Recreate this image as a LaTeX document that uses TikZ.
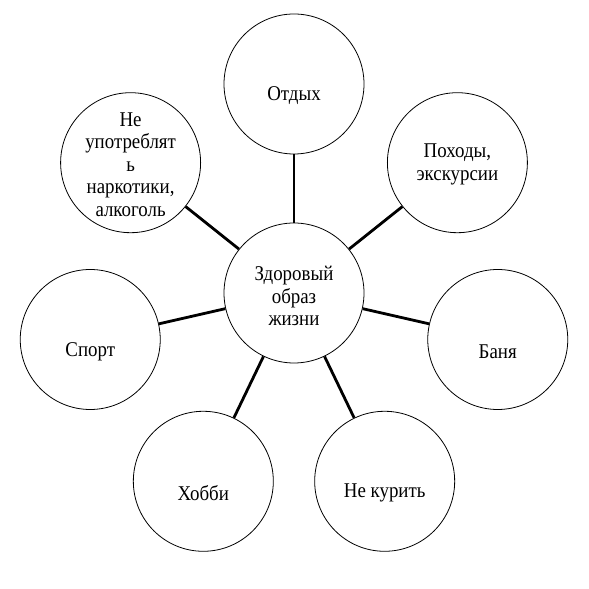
\documentclass[tikz,border=0pt]{standalone}
\usepackage{fontspec}
\setmainfont{Liberation Serif}
\newfontfamily\labfont[FakeStretch=0.9]{Liberation Serif}
\begin{document}
\begin{tikzpicture}[x=1pt,y=1pt,
  bub/.style={circle, draw, line width=0.8pt, minimum size=140pt, inner sep=0pt},
  lab/.style={align=center, font=\labfont\fontsize{21}{22.5}\selectfont, inner sep=0pt},
  link/.style={line width=2.8pt}]
\useasboundingbox (0,0) rectangle (589,589);
\node[bub] (c) at (294,296) {};
\node[bub] (otd) at ([shift={(90:209pt)}]c) {};
\node[bub] (poh) at ([shift={(38.571:209pt)}]c) {};
\node[bub] (ban) at ([shift={(-12.857:209pt)}]c) {};
\node[bub] (kur) at ([shift={(-64.286:209pt)}]c) {};
\node[bub] (hob) at ([shift={(-115.714:209pt)}]c) {};
\node[bub] (spo) at ([shift={(-167.143:209pt)}]c) {};
\node[bub] (nar) at ([shift={(141.429:209pt)}]c) {};
\node[lab] (tc) at ([yshift=-3pt]c.center) {Здоровый\\образ\\жизни};
\node[lab] (totd) at ([yshift=-12pt]otd.center) {Отдых};
\node[lab] (tpoh) at ([yshift=-1.5pt]poh.center) {Походы,\\экскурсии};
\node[lab] (tban) at ([yshift=-12pt]ban.center) {Баня};
\node[lab] (tkur) at ([yshift=-12pt]kur.center) {Не курить};
\node[lab] (thob) at ([yshift=-12pt]hob.center) {Хобби};
\node[lab] (tspo) at ([yshift=-12pt]spo.center) {Спорт};
\node[lab] (tnar) at ([yshift=-2pt]nar.center) {Не\\употреблят\\ь\\наркотики,\\алкоголь};
\foreach \n in {otd,poh,ban,kur,hob,spo,nar}
  \draw[link] (c) -- (\n);
\end{tikzpicture}
\end{document}
